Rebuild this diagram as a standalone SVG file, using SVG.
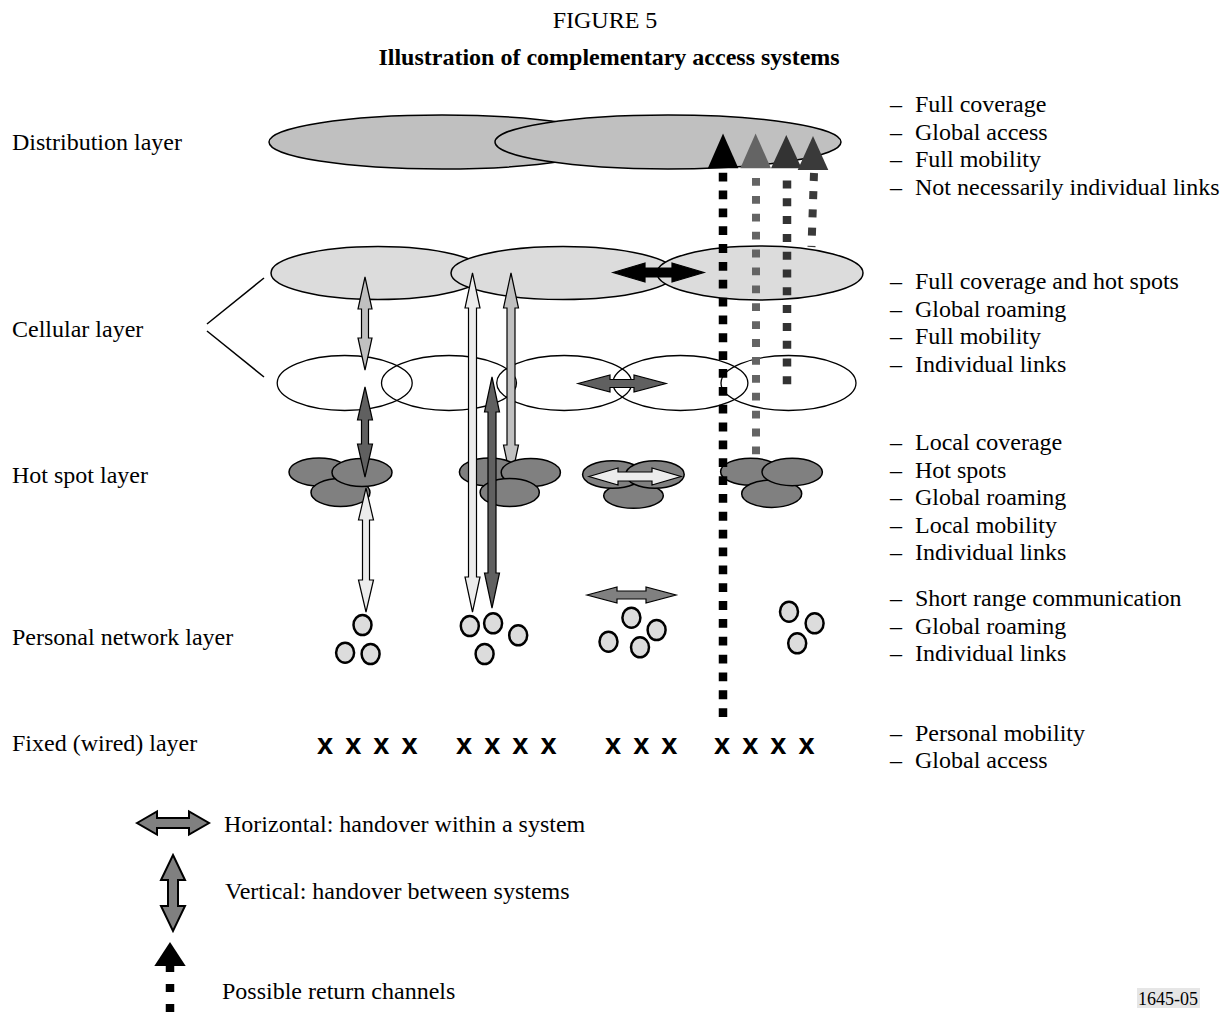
<svg xmlns="http://www.w3.org/2000/svg" width="1229" height="1015" viewBox="0 0 1229 1015">
<style>
.t{font-family:"Liberation Serif","Times New Roman",serif;font-size:24px;fill:#000}
.tb{font-family:"Liberation Serif","Times New Roman",serif;font-size:24px;font-weight:bold;fill:#000}
.xx{font-family:"Liberation Sans",Arial,sans-serif;font-size:29px;font-weight:bold;fill:#000;word-spacing:4px}
.dist{fill:#c0c0c0;stroke:#000;stroke-width:1.5}
.cell{fill:#dcdcdc;stroke:#000;stroke-width:1.5}
.cell2{fill:none;stroke:#000;stroke-width:1.3}
.hot{fill:#808080;stroke:#000;stroke-width:1.5}
.pers{fill:#dcdcdc;stroke:#000;stroke-width:2.5}
.ar{stroke:#000;stroke-width:1.2;stroke-linejoin:miter}
.lg{stroke:#000;stroke-width:2;stroke-linejoin:miter}
.white{fill:#ececec}.light{fill:#c0c0c0}.dark{fill:#606060}.mid{fill:#808080}.blk{fill:#000}
</style>
<rect width="1229" height="1015" fill="#fff"/>

<g id="title">
<text class="t" x="605" y="28" text-anchor="middle">FIGURE 5</text>
<text class="tb" x="609" y="65" text-anchor="middle">Illustration of complementary access systems</text>
</g>

<g id="layer-labels">
<text class="t" x="12" y="150">Distribution layer</text>
<text class="t" x="12" y="337">Cellular layer</text>
<text class="t" x="12" y="483">Hot spot layer</text>
<text class="t" x="12" y="645">Personal network layer</text>
<text class="t" x="12" y="751">Fixed (wired) layer</text>
<line x1="207" y1="324" x2="264" y2="278" stroke="#000" stroke-width="1.5"/>
<line x1="207" y1="331" x2="264" y2="377" stroke="#000" stroke-width="1.5"/>
</g>

<g id="distribution-layer">
<ellipse class="dist" cx="442" cy="142" rx="173" ry="27"/>
<ellipse class="dist" cx="668" cy="142" rx="173" ry="27"/>
</g>

<g id="cellular-layer-macro">
<ellipse class="cell" cx="378" cy="273" rx="107" ry="26.5"/>
<ellipse class="cell" cx="563" cy="273" rx="112" ry="26.5"/>
<ellipse class="cell" cx="760" cy="273" rx="103" ry="27"/>
</g>

<g id="cellular-layer-micro">
<ellipse class="cell2" cx="344.7" cy="383" rx="67.5" ry="27.5"/>
<ellipse class="cell2" cx="449" cy="383" rx="67.5" ry="27.5"/>
<ellipse class="cell2" cx="564.2" cy="383" rx="67.5" ry="27.5"/>
<ellipse class="cell2" cx="680.4" cy="383" rx="67.5" ry="27.5"/>
<ellipse class="cell2" cx="788.5" cy="383" rx="67.5" ry="27.5"/>
</g>

<g id="connectors-behind">
<polygon class="ar light" points="511,273 518.5,308 515,308 515,445 518.5,445 511,480 503.5,445 507,445 507,308 503.5,308"/>
</g>

<g id="hotspot-1">
<ellipse class="hot" cx="319" cy="472" rx="30" ry="14"/>
<ellipse class="hot" cx="340.5" cy="492.5" rx="29.5" ry="14"/>
<ellipse class="hot" cx="362" cy="472.5" rx="30" ry="14"/>
</g>
<g id="hotspot-2">
<ellipse class="hot" cx="489.4" cy="472" rx="30" ry="14"/>
<ellipse class="hot" cx="530.8" cy="472.5" rx="29.6" ry="14"/>
<ellipse class="hot" cx="509.7" cy="492.5" rx="29.6" ry="14"/>
</g>
<g id="hotspot-3">
<ellipse class="hot" cx="633.5" cy="495.8" rx="29.8" ry="12.5"/>
<ellipse class="hot" cx="612.6" cy="474.5" rx="30" ry="13.8"/>
<ellipse class="hot" cx="655" cy="474.5" rx="29.2" ry="13.8"/>
</g>
<g id="hotspot-4">
<ellipse class="hot" cx="750.6" cy="471.7" rx="30" ry="13.5"/>
<ellipse class="hot" cx="771.7" cy="493.7" rx="30" ry="13.7"/>
<ellipse class="hot" cx="792.2" cy="472" rx="30.2" ry="13.7"/>
</g>

<g id="personal-1">
<ellipse class="pers" cx="362.5" cy="625" rx="9" ry="10"/>
<ellipse class="pers" cx="345.1" cy="652.7" rx="9" ry="10"/>
<ellipse class="pers" cx="370.6" cy="654" rx="9" ry="10"/>
</g>
<g id="personal-2">
<ellipse class="pers" cx="469.8" cy="626" rx="9" ry="10"/>
<ellipse class="pers" cx="493.1" cy="623.3" rx="9" ry="10"/>
<ellipse class="pers" cx="518.2" cy="635.3" rx="9" ry="10"/>
<ellipse class="pers" cx="484.6" cy="654" rx="9" ry="10"/>
</g>
<g id="personal-3">
<ellipse class="pers" cx="631.4" cy="617.7" rx="9" ry="10"/>
<ellipse class="pers" cx="656.6" cy="630" rx="9" ry="10"/>
<ellipse class="pers" cx="608.5" cy="641.7" rx="9" ry="10"/>
<ellipse class="pers" cx="640" cy="647.3" rx="9" ry="10"/>
</g>
<g id="personal-4">
<ellipse class="pers" cx="789" cy="611.7" rx="9" ry="10"/>
<ellipse class="pers" cx="814.6" cy="623.3" rx="9" ry="10"/>
<ellipse class="pers" cx="797.2" cy="643.3" rx="9" ry="10"/>
</g>

<g id="fixed-layer">
<text class="xx" x="317" y="754">x x x x</text>
<text class="xx" x="456" y="754">x x x x</text>
<text class="xx" x="605" y="754">x x x</text>
<text class="xx" x="714" y="754">x x x x</text>
</g>

<g id="connectors">
<polygon class="ar light" points="365,277 372,309 368.5,309 368.5,338 372,338 365,370 358,338 361.5,338 361.5,309 358,309"/>
<polygon class="ar dark" points="365,387 372.5,420 368.5,420 368.5,444 372.5,444 365,477 357.5,444 361.5,444 361.5,420 357.5,420"/>
<polygon class="ar white" points="366,488 373.5,520 369.5,520 369.5,580 373.5,580 366,612 358.5,580 362.5,580 362.5,520 358.5,520"/>
<polygon class="ar white" points="472.5,273 480,308 476.5,308 476.5,577 480,577 472.5,612 465,577 468.5,577 468.5,308 465,308"/>
<polygon class="ar dark" points="492,377 499.5,412 496,412 496,573 499.5,573 492,608 484.5,573 488,573 488,412 484.5,412"/>
<polygon class="ar blk" points="613,272.5 645,263 645,268 672,268 672,263 704,272.5 672,282 672,277 645,277 645,282"/>
<polygon class="ar dark" points="578,383.5 610,375 610,379.5 634,379.5 634,375 666,383.5 634,392 634,387.5 610,387.5 610,392"/>
<polygon class="ar white" points="589,476.5 618,468 618,472 652,472 652,468 681,476.5 652,485 652,481 618,481 618,485"/>
<polygon class="ar mid" points="587,595 617,587 617,591 646,591 646,587 676,595 646,603 646,599 617,599 617,603"/>
</g>

<g id="return-channels">
<line x1="723" y1="172.7" x2="723" y2="717.5" stroke="#000" stroke-width="8.5" stroke-dasharray="8.8 9.05"/>
<polygon points="723,133.5 707.8,168.3 738.4,168.3" fill="#000"/>
<line x1="756" y1="178" x2="756" y2="455" stroke="#646464" stroke-width="8" stroke-dasharray="7.8 10.1"/>
<polygon points="755.6,133.5 740.3,168.3 771,168.3" fill="#646464"/>
<line x1="787" y1="180.5" x2="787" y2="384.5" stroke="#333" stroke-width="8.5" stroke-dasharray="8 9.8"/>
<polygon points="786.3,135 771,168.3 801.6,168.3" fill="#333"/>
<line x1="814" y1="173" x2="811.5" y2="247" stroke="#3a3a3a" stroke-width="8" stroke-dasharray="8 10.25"/>
<polygon points="813,136 797.7,170 828.3,170" fill="#3a3a3a"/>
</g>

<g id="properties">
<text class="t"><tspan x="890" y="112">–</tspan><tspan x="915" y="112">Full coverage</tspan></text>
<text class="t"><tspan x="890" y="139.5">–</tspan><tspan x="915" y="139.5">Global access</tspan></text>
<text class="t"><tspan x="890" y="167">–</tspan><tspan x="915" y="167">Full mobility</tspan></text>
<text class="t"><tspan x="890" y="194.5">–</tspan><tspan x="915" y="194.5">Not necessarily individual links</tspan></text>
<text class="t"><tspan x="890" y="289">–</tspan><tspan x="915" y="289">Full coverage and hot spots</tspan></text>
<text class="t"><tspan x="890" y="316.5">–</tspan><tspan x="915" y="316.5">Global roaming</tspan></text>
<text class="t"><tspan x="890" y="344">–</tspan><tspan x="915" y="344">Full mobility</tspan></text>
<text class="t"><tspan x="890" y="371.5">–</tspan><tspan x="915" y="371.5">Individual links</tspan></text>
<text class="t"><tspan x="890" y="450">–</tspan><tspan x="915" y="450">Local coverage</tspan></text>
<text class="t"><tspan x="890" y="477.5">–</tspan><tspan x="915" y="477.5">Hot spots</tspan></text>
<text class="t"><tspan x="890" y="505">–</tspan><tspan x="915" y="505">Global roaming</tspan></text>
<text class="t"><tspan x="890" y="532.5">–</tspan><tspan x="915" y="532.5">Local mobility</tspan></text>
<text class="t"><tspan x="890" y="560">–</tspan><tspan x="915" y="560">Individual links</tspan></text>
<text class="t"><tspan x="890" y="606">–</tspan><tspan x="915" y="606">Short range communication</tspan></text>
<text class="t"><tspan x="890" y="633.5">–</tspan><tspan x="915" y="633.5">Global roaming</tspan></text>
<text class="t"><tspan x="890" y="661">–</tspan><tspan x="915" y="661">Individual links</tspan></text>
<text class="t"><tspan x="890" y="741">–</tspan><tspan x="915" y="741">Personal mobility</tspan></text>
<text class="t"><tspan x="890" y="768">–</tspan><tspan x="915" y="768">Global access</tspan></text>
</g>

<g id="legend">
<polygon class="lg mid" points="137,823 157,811.5 157,818 189,818 189,811.5 209,823 189,834.5 189,828 157,828 157,834.5"/>
<text class="t" x="224" y="832">Horizontal: handover within a system</text>
<polygon class="lg mid" points="173,855 185,880 178,880 178,906 185,906 173,931 161,906 168,906 168,880 161,880"/>
<text class="t" x="225" y="899">Vertical: handover between systems</text>
<polygon points="170,942 154.3,966 185.7,966" fill="#000"/>
<line x1="170" y1="964" x2="170" y2="1014" stroke="#000" stroke-width="8.5" stroke-dasharray="8 12"/>
<text class="t" x="222" y="999">Possible return channels</text>
</g>

<g id="figure-ref">
<rect x="1137" y="988" width="63" height="20" fill="#e6e6e6"/>
<text class="t" x="1138" y="1005" style="font-size:18px">1645-05</text>
</g>
</svg>
